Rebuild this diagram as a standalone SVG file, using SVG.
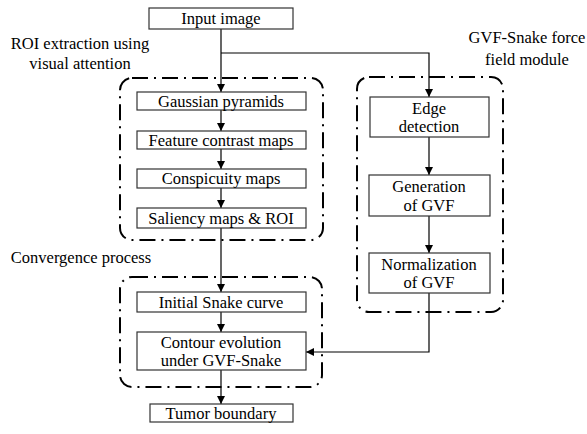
<svg xmlns="http://www.w3.org/2000/svg" width="587" height="434" viewBox="0 0 587 434">
<defs>
<marker id="ah" viewBox="0 0 10 10" refX="10" refY="5" markerWidth="8" markerHeight="8" markerUnits="userSpaceOnUse" orient="auto">
<path d="M0,0 L10,5 L0,10 z" fill="#000"/>
</marker>
<style>
.box{fill:#fff;stroke:#333;stroke-width:1.2}
.grp{fill:none;stroke:#000;stroke-width:2;stroke-dasharray:16 6 2 6}
.c{fill:none;stroke:#000;stroke-width:1.2;marker-end:url(#ah)}
text{font-family:"Liberation Serif","Times New Roman",serif;font-size:16.5px;fill:#000;text-anchor:middle}
</style>
</defs>
<rect width="587" height="434" fill="#fff"/>
<g id="groups">
<rect id="grp-roi" class="grp" x="120" y="78" width="203" height="162" rx="12"/>
<rect id="grp-gvf" class="grp" x="357" y="77" width="146" height="235" rx="12"/>
<rect id="grp-conv" class="grp" x="120" y="277" width="202" height="110" rx="12"/>
</g>
<g id="labels">
<text x="80" y="49">ROI extraction using</text>
<text x="80" y="69">visual attention</text>
<text x="527" y="43">GVF-Snake force</text>
<text x="527" y="65">field module</text>
<text x="81" y="263">Convergence process</text>
</g>
<g id="connectors">
<path class="c" d="M221,29 V92"/>
<path class="c" d="M221,53 H429 V97"/>
<path class="c" d="M221,110 V131"/>
<path class="c" d="M221,149 V169"/>
<path class="c" d="M221,188 V208"/>
<path class="c" d="M221,228 V292"/>
<path class="c" d="M221,312 V332"/>
<path class="c" d="M221,370 V404"/>
<path class="c" d="M429,137 V175"/>
<path class="c" d="M429,216 V253"/>
<path class="c" d="M429,293 V352 H306"/>
</g>
<g id="nodes">
<g id="n-input"><rect class="box" x="149" y="8" width="144" height="21"/><text x="221" y="24">Input image</text></g>
<g id="n-gauss"><rect class="box" x="137" y="92" width="169" height="18"/><text x="221" y="106.5">Gaussian pyramids</text></g>
<g id="n-feature"><rect class="box" x="137" y="131" width="169" height="18"/><text x="221" y="145.5">Feature contrast maps</text></g>
<g id="n-consp"><rect class="box" x="137" y="169" width="169" height="19"/><text x="221" y="184">Conspicuity maps</text></g>
<g id="n-saliency"><rect class="box" x="137" y="208" width="169" height="20"/><text x="221" y="223.5">Saliency maps &amp; ROI</text></g>
<g id="n-initial"><rect class="box" x="137" y="292" width="169" height="20"/><text x="221" y="307.5">Initial Snake curve</text></g>
<g id="n-contour"><rect class="box" x="137" y="332" width="169" height="38"/><text x="221" y="347.5">Contour evolution</text><text x="221" y="365.5">under GVF-Snake</text></g>
<g id="n-tumor"><rect class="box" x="150" y="404" width="143" height="18"/><text x="221" y="418.5">Tumor boundary</text></g>
<g id="n-edge"><rect class="box" x="370" y="97" width="119" height="40"/><text x="429" y="113.5">Edge</text><text x="429" y="131.5">detection</text></g>
<g id="n-gen"><rect class="box" x="369" y="175" width="121" height="41"/><text x="429" y="191.5">Generation</text><text x="429" y="210.5">of GVF</text></g>
<g id="n-norm"><rect class="box" x="369" y="253" width="121" height="40"/><text x="429" y="269.5">Normalization</text><text x="429" y="287.5">of GVF</text></g>
</g>
</svg>
